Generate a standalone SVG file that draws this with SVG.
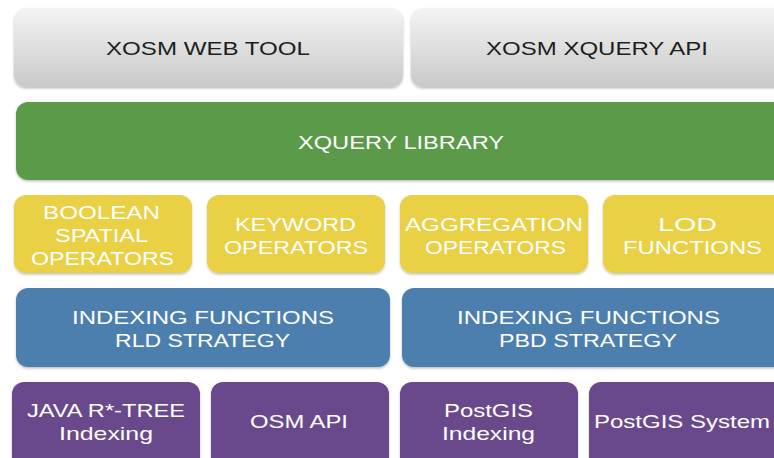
<svg xmlns="http://www.w3.org/2000/svg" width="774" height="458" viewBox="0 0 774 458">
  <defs>
    <linearGradient id="grayFill" x1="0" y1="0" x2="0" y2="1">
      <stop offset="0" stop-color="#f4f4f4"/>
      <stop offset="1" stop-color="#c9c9c9"/>
    </linearGradient>
    <filter id="shadow" x="-5%" y="-10%" width="110%" height="125%">
      <feDropShadow dx="0" dy="1.5" stdDeviation="1.2" flood-color="#000" flood-opacity="0.25"/>
    </filter>
    <style>
      .box { filter: url(#shadow); }
      .gray { fill: url(#grayFill); }
      .green { fill: #5a9a48; }
      .yellow { fill: #e9d044; }
      .blue { fill: #4e7fae; }
      .purple { fill: #694a8c; }
      text { font-family: "Liberation Sans", Arial, Helvetica, sans-serif; font-size: 19px; }
      .dark { fill: #1e1e1e; }
      .light { fill: #ffffff; }
    </style>
  </defs>

  <rect width="774" height="458" fill="#ffffff"/>

  <!-- Top layer: clients -->
  <g id="web-tool">
    <rect class="box gray" x="14" y="8" width="389" height="79" rx="12"/>
    <text class="dark" x="106" y="55" textLength="204" lengthAdjust="spacingAndGlyphs">XOSM WEB TOOL</text>
  </g>
  <g id="xquery-api">
    <rect class="box gray" x="411" y="8" width="380" height="79" rx="12"/>
    <text class="dark" x="486" y="55" textLength="222" lengthAdjust="spacingAndGlyphs">XOSM XQUERY API</text>
  </g>

  <!-- Library layer -->
  <g id="xquery-library">
    <rect class="box green" x="16" y="102" width="775" height="78" rx="12"/>
    <text class="light" x="298" y="149" textLength="206" lengthAdjust="spacingAndGlyphs">XQUERY LIBRARY</text>
  </g>

  <!-- Operator layer -->
  <g id="boolean-spatial">
    <rect class="box yellow" x="14" y="195" width="178" height="78" rx="12"/>
    <text class="light" x="43" y="219" textLength="117" lengthAdjust="spacingAndGlyphs">BOOLEAN</text>
    <text class="light" x="55" y="242" textLength="93" lengthAdjust="spacingAndGlyphs">SPATIAL</text>
    <text class="light" x="31" y="265" textLength="143" lengthAdjust="spacingAndGlyphs">OPERATORS</text>
  </g>
  <g id="keyword">
    <rect class="box yellow" x="207" y="195" width="178" height="78" rx="12"/>
    <text class="light" x="235" y="231" textLength="121" lengthAdjust="spacingAndGlyphs">KEYWORD</text>
    <text class="light" x="224" y="254" textLength="144" lengthAdjust="spacingAndGlyphs">OPERATORS</text>
  </g>
  <g id="aggregation">
    <rect class="box yellow" x="400" y="195" width="188" height="78" rx="12"/>
    <text class="light" x="405" y="231" textLength="178" lengthAdjust="spacingAndGlyphs">AGGREGATION</text>
    <text class="light" x="425" y="254" textLength="141" lengthAdjust="spacingAndGlyphs">OPERATORS</text>
  </g>
  <g id="lod">
    <rect class="box yellow" x="603" y="195" width="190" height="78" rx="12"/>
    <text class="light" x="658" y="231" textLength="59" lengthAdjust="spacingAndGlyphs">LOD</text>
    <text class="light" x="623" y="254" textLength="139" lengthAdjust="spacingAndGlyphs">FUNCTIONS</text>
  </g>

  <!-- Indexing strategies -->
  <g id="rld-strategy">
    <rect class="box blue" x="16" y="288" width="374" height="79" rx="12"/>
    <text class="light" x="72" y="324" textLength="262" lengthAdjust="spacingAndGlyphs">INDEXING FUNCTIONS</text>
    <text class="light" x="115" y="347" textLength="175" lengthAdjust="spacingAndGlyphs">RLD STRATEGY</text>
  </g>
  <g id="pbd-strategy">
    <rect class="box blue" x="402" y="288" width="390" height="79" rx="12"/>
    <text class="light" x="457" y="324" textLength="263" lengthAdjust="spacingAndGlyphs">INDEXING FUNCTIONS</text>
    <text class="light" x="499" y="347" textLength="178" lengthAdjust="spacingAndGlyphs">PBD STRATEGY</text>
  </g>

  <!-- Back ends -->
  <g id="rtree-indexing">
    <rect class="box purple" x="12" y="382" width="188" height="90" rx="12"/>
    <text class="light" x="27" y="417" textLength="158" lengthAdjust="spacingAndGlyphs">JAVA R*-TREE</text>
    <text class="light" x="59" y="440" textLength="94" lengthAdjust="spacingAndGlyphs">Indexing</text>
  </g>
  <g id="osm-api">
    <rect class="box purple" x="211" y="382" width="178" height="90" rx="12"/>
    <text class="light" x="250" y="428" textLength="98" lengthAdjust="spacingAndGlyphs">OSM API</text>
  </g>
  <g id="postgis-indexing">
    <rect class="box purple" x="400" y="382" width="178" height="90" rx="12"/>
    <text class="light" x="444" y="417" textLength="89" lengthAdjust="spacingAndGlyphs">PostGIS</text>
    <text class="light" x="442" y="440" textLength="93" lengthAdjust="spacingAndGlyphs">Indexing</text>
  </g>
  <g id="postgis-system">
    <rect class="box purple" x="589" y="382" width="200" height="90" rx="12"/>
    <text class="light" x="594" y="428" textLength="176" lengthAdjust="spacingAndGlyphs">PostGIS System</text>
  </g>

  <!-- The layers are stacked directly; no connectors are drawn -->
  <g id="connectors"/>
</svg>
